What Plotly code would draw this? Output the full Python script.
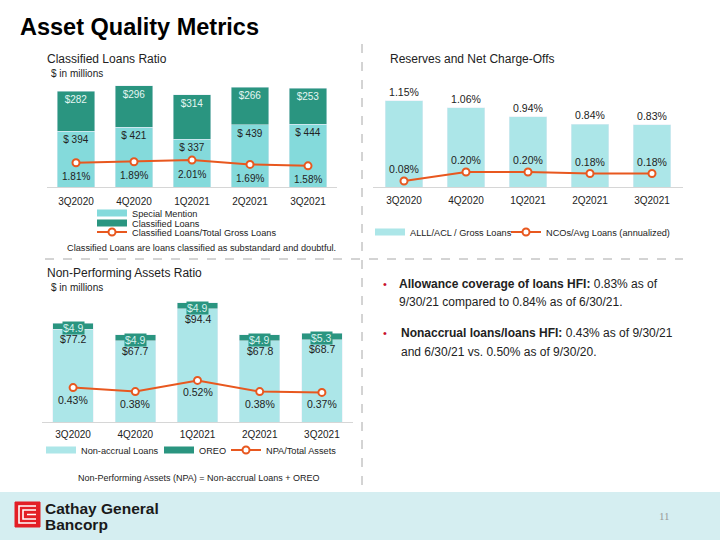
import plotly.graph_objects as go

W, H = 720, 540

quarters = ["3Q2020", "4Q2020", "1Q2021", "2Q2021", "3Q2021"]

special_mention = [394, 421, 337, 439, 444]
classified_loans = [282, 296, 314, 266, 253]
classified_ratio = [1.81, 1.89, 2.01, 1.69, 1.58]

allowance_ratio = [1.15, 1.06, 0.94, 0.84, 0.83]
nco_ratio = [0.08, 0.20, 0.20, 0.18, 0.18]

nonaccrual_loans = [77.2, 67.7, 94.4, 67.8, 68.7]
oreo = [4.9, 4.9, 4.9, 4.9, 5.3]
npa_ratio = [0.43, 0.38, 0.52, 0.38, 0.37]

LIGHT = "#84DADB"
PALE = "#ACE6E8"
TEAL = "#2A9580"
ORANGE = "#E8581F"
DARK = "#222222"
FONT = "Liberation Sans"


def fx(p):
    return p / W


def fy(p):
    return 1 - p / H


def line_marker():
    return dict(symbol="circle", size=7, color="white", line=dict(color=ORANGE, width=2))


def swatch(name, color, legend):
    # legend-only entry drawn as a wide flat block, like the slide's legend keys
    return go.Scatter(
        x=[None], y=[None], name=name, mode="lines", line=dict(color=color, width=7),
        legend=legend, hoverinfo="skip",
    )


fig = go.Figure()

# --- Classified Loans Ratio (top left)
fig.add_trace(go.Bar(
    x=quarters, y=special_mention, name="Special Mention", marker_color=LIGHT,
    width=0.64, text=[f"$ {v}" for v in special_mention], textposition="inside",
    insidetextanchor="end", constraintext="none", textangle=0,
    textfont=dict(size=10, color=DARK), xaxis="x", yaxis="y", showlegend=False,
))
fig.add_trace(go.Bar(
    x=quarters, y=classified_loans, name="Classified Loans", marker_color=TEAL,
    width=0.64, text=[f"${v}" for v in classified_loans], textposition="inside",
    insidetextanchor="end", constraintext="none", textangle=0,
    textfont=dict(size=10, color="#E4F5F1"), xaxis="x", yaxis="y", showlegend=False,
))
fig.add_trace(go.Scatter(
    x=quarters, y=classified_ratio, name="Classified Loans/Total Gross Loans",
    mode="lines+markers", line=dict(color=ORANGE, width=2), marker=line_marker(),
    xaxis="x", yaxis="y4", legend="legend3", cliponaxis=False,
))
fig.add_trace(swatch("Special Mention", LIGHT, "legend"))
fig.add_trace(swatch("Classified Loans", TEAL, "legend2"))

# --- Reserves and Net Charge-Offs (top right)
fig.add_trace(go.Bar(
    x=quarters, y=allowance_ratio, name="ALLL/ACL / Gross Loans", marker_color=PALE,
    width=0.6, text=[f"{v:.2f}%" for v in allowance_ratio], textposition="outside",
    constraintext="none", textfont=dict(size=10.5, color=DARK), cliponaxis=False,
    xaxis="x2", yaxis="y2", showlegend=False,
))
fig.add_trace(go.Scatter(
    x=quarters, y=nco_ratio, name="NCOs/Avg Loans (annualized)",
    mode="lines+markers+text", text=[f"{v:.2f}%" for v in nco_ratio],
    textposition="top center", textfont=dict(size=10.5, color=DARK),
    line=dict(color=ORANGE, width=2), marker=line_marker(),
    xaxis="x2", yaxis="y2", legend="legend5", cliponaxis=False,
))
fig.add_trace(swatch("ALLL/ACL / Gross Loans", PALE, "legend4"))

# --- Non-Performing Assets Ratio (bottom left)
fig.add_trace(go.Bar(
    x=quarters, y=nonaccrual_loans, name="Non-accrual Loans", marker_color=PALE,
    width=0.65, xaxis="x3", yaxis="y3", showlegend=False,
))
fig.add_trace(go.Bar(
    x=quarters, y=oreo, name="OREO", marker_color=TEAL,
    width=0.65, xaxis="x3", yaxis="y3", showlegend=False,
))
fig.add_trace(go.Scatter(
    x=quarters, y=npa_ratio, name="NPA/Total Assets",
    mode="lines+markers", line=dict(color=ORANGE, width=2), marker=line_marker(),
    xaxis="x3", yaxis="y5", legend="legend8", cliponaxis=False,
))
fig.add_trace(swatch("Non-accrual Loans", PALE, "legend6"))
fig.add_trace(swatch("OREO", TEAL, "legend7"))

annotations = []
for q, r in zip(quarters, classified_ratio):
    annotations.append(dict(
        x=q, y=r, xref="x", yref="y4", text=f"{r:.2f}%", showarrow=False,
        yshift=-14, font=dict(size=10, color=DARK, family=FONT),
    ))
for q, r in zip(quarters, npa_ratio):
    annotations.append(dict(
        x=q, y=r, xref="x3", yref="y5", text=f"{r:.2f}%", showarrow=False,
        yshift=-12, font=dict(size=10.5, color=DARK, family=FONT),
    ))
for q, n, o in zip(quarters, nonaccrual_loans, oreo):
    annotations.append(dict(
        x=q, y=n + o, xref="x3", yref="y3", text=f"${o}", showarrow=False,
        yanchor="top", yshift=2, bgcolor=TEAL, borderpad=0,
        font=dict(size=10.5, color="#D5F2EE", family=FONT),
    ))
    annotations.append(dict(
        x=q, y=n + o, xref="x3", yref="y3", text=f"${n}", showarrow=False,
        yanchor="top", yshift=-8, font=dict(size=10.5, color=DARK, family=FONT),
    ))


def text(x, y, s, size, color=DARK, bold=False, family=FONT, anchor="left"):
    if bold:
        s = f"<b>{s}</b>"
    annotations.append(dict(
        x=fx(x), y=fy(y), xref="paper", yref="paper", text=s, showarrow=False,
        xanchor=anchor, yanchor="middle", font=dict(size=size, color=color, family=family),
    ))


text(18, 27, "Asset Quality Metrics", 23.5, color="#000000", bold=True)
text(45, 59, "Classified Loans Ratio", 12)
text(49, 73, "$ in millions", 10)
text(65, 248, "Classified Loans are loans classified as substandard and doubtful.", 9.2)
text(388, 59, "Reserves and Net Charge-Offs", 12)
text(45, 273, "Non-Performing Assets Ratio", 12)
text(49, 287, "$ in millions", 10)
text(76, 478, "Non-Performing Assets (NPA) = Non-accrual Loans + OREO", 9)

text(381, 284, "•", 11, color="#C8102E")
text(397, 284, "<b>Allowance coverage of loans HFI:</b> 0.83% as of", 12)
text(397, 302, "9/30/21 compared to 0.84% as of 6/30/21.", 12)
text(381, 333, "•", 11, color="#C8102E")
text(399, 333, "<b>Nonaccrual loans/loans HFI:</b> 0.43% as of 9/30/21", 12)
text(399, 352, "and 6/30/21 vs. 0.50% as of 9/30/20.", 12)

text(43, 509, "Cathay General", 15.5, color="#1A1A1A", bold=True)
text(43, 524, "Bancorp", 15.5, color="#1A1A1A", bold=True)
text(664, 516, "11", 11, color="#9A9A9A", family="Liberation Serif", anchor="center")

shapes = [
    dict(type="rect", xref="paper", yref="paper", x0=0, x1=1, y0=fy(540), y1=fy(492),
         fillcolor="#D5EEF1", line=dict(width=0), layer="below"),
    dict(type="line", xref="paper", yref="paper", x0=fx(45), x1=fx(683), y0=fy(259), y1=fy(259),
         line=dict(color="#A8A8A8", width=1, dash="dash")),
    dict(type="line", xref="paper", yref="paper", x0=fx(362), x1=fx(362), y0=fy(44), y1=fy(486),
         line=dict(color="#A8A8A8", width=1, dash="dash")),
    # logo
    dict(type="rect", xref="paper", yref="paper", x0=fx(15), x1=fx(40), y0=fy(527), y1=fy(502),
         fillcolor="#E31F26", line=dict(color="#E31F26", width=1)),
    dict(type="path", xref="paper", yref="paper",
         path=(f"M {fx(36)} {fy(506)} L {fx(19)} {fy(506)} L {fx(19)} {fy(523)} L {fx(36)} {fy(523)}"
               f" M {fx(36)} {fy(510)} L {fx(23)} {fy(510)} L {fx(23)} {fy(519)} L {fx(36)} {fy(519)}"
               f" M {fx(27)} {fy(514.5)} L {fx(36)} {fy(514.5)}"),
         line=dict(color="white", width=1.6)),
]

xbase = dict(
    type="category", showline=True, linecolor="#D6D6D6", linewidth=1, showgrid=False,
    zeroline=False, ticks="", tickfont=dict(size=10, color=DARK, family=FONT),
    fixedrange=True,
)
yhidden = dict(visible=False, showgrid=False, zeroline=False, fixedrange=True)

legend_base = dict(
    font=dict(size=9.2, color=DARK, family=FONT), bgcolor="rgba(0,0,0,0)",
    xanchor="left", yanchor="middle", orientation="h", itemwidth=30,
)

# one legend per entry so each key sits where it does on the slide (text x - 40)
legend_pos = {
    "legend": (92, 213), "legend2": (92, 223), "legend3": (92, 232),
    "legend4": (370, 232), "legend5": (506, 232),
    "legend6": (41, 450), "legend7": (159, 450), "legend8": (226, 450),
}
legends = {k: dict(legend_base, x=fx(px), y=fy(py)) for k, (px, py) in legend_pos.items()}

fig.update_layout(
    width=W, height=H, margin=dict(l=0, r=0, t=0, b=0),
    paper_bgcolor="white", plot_bgcolor="rgba(0,0,0,0)",
    barmode="stack", font=dict(family=FONT, color=DARK),
    xaxis=dict(xbase, domain=[fx(47), fx(337)], anchor="y", ticklabelstandoff=5),
    yaxis=dict(yhidden, domain=[fy(187), fy(80)], range=[0, 757]),
    yaxis4=dict(yhidden, overlaying="y", range=[0, 8.0]),
    xaxis2=dict(xbase, domain=[fx(373), fx(683)], anchor="y2", ticklabelstandoff=4),
    yaxis2=dict(yhidden, domain=[fy(187), fy(80)], range=[0, 1.43]),
    xaxis3=dict(xbase, domain=[fx(42), fx(353)], anchor="y3", ticklabelstandoff=3),
    yaxis3=dict(yhidden, domain=[fy(422), fy(290)], range=[0, 110]),
    yaxis5=dict(yhidden, overlaying="y3", range=[0, 1.65]),
    annotations=annotations,
    shapes=shapes,
    **legends,
)

fig.write_html(
    "out.html",
    config={"displayModeBar": False},
    post_script="document.body.style.margin = '0';",
)
